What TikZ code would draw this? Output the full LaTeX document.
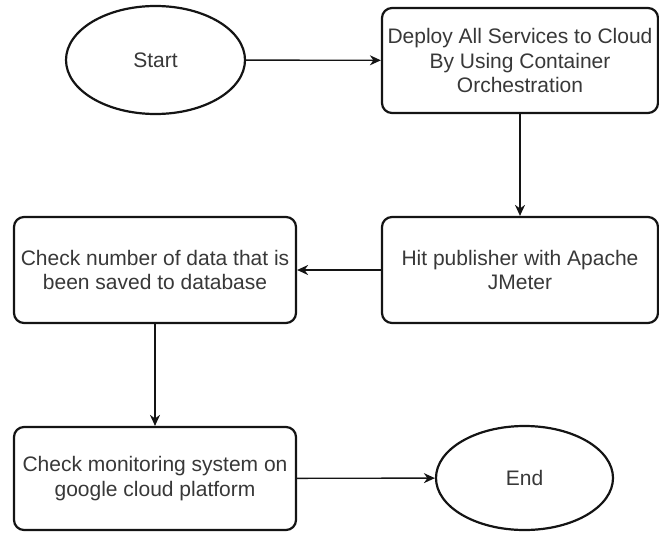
\documentclass[tikz,border=0pt]{standalone}
\usepackage{fontspec}
\setmainfont{Liberation Sans}
\usetikzlibrary{arrows.meta,shapes.geometric}
\definecolor{txt}{HTML}{383838}
\definecolor{edge}{HTML}{141414}
\tikzset{
  x=1pt, y=-1pt,
  every node/.style={font=\fontsize{21}{24.5}\selectfont, text=txt, align=center, inner sep=0pt},
  terminal/.style={ellipse, draw=edge, line width=2.2pt, fill=white},
  stepbox/.style={rectangle, rounded corners=10pt, draw=edge, line width=2.2pt, fill=white},
  flow/.style={draw=edge, line width=1.4pt, -{Stealth[length=11pt,width=10pt,inset=3.5pt]}}
}
\begin{document}
\begin{tikzpicture}
  \useasboundingbox (0,0) rectangle (659,533);
  % terminals
  \node[terminal, minimum width=179pt, minimum height=108pt] (start) at (155.5,60) {Start};
  \node[terminal, minimum width=177pt, minimum height=104pt] (end) at (524.5,478) {End};
  % process steps
  \node[stepbox, minimum width=276pt, minimum height=105pt] (deploy) at (520,60.5)
    {Deploy All Services to Cloud\\By Using Container\\Orchestration};
  \node[stepbox, minimum width=276pt, minimum height=106pt] (hit) at (520,270)
    {Hit publisher with Apache\\JMeter};
  \node[stepbox, minimum width=282pt, minimum height=106pt] (count) at (155,270)
    {Check number of data that is\\been saved to database};
  \node[stepbox, minimum width=282pt, minimum height=103pt] (monitor) at (155,478.5)
    {Check monitoring system on\\google cloud platform};
  % connectors
  \draw[flow] (start) -- (deploy);
  \draw[flow] (deploy) -- (hit);
  \draw[flow] (hit) -- (count);
  \draw[flow] (count) -- (monitor);
  \draw[flow] (monitor) -- (end);
\end{tikzpicture}
\end{document}
